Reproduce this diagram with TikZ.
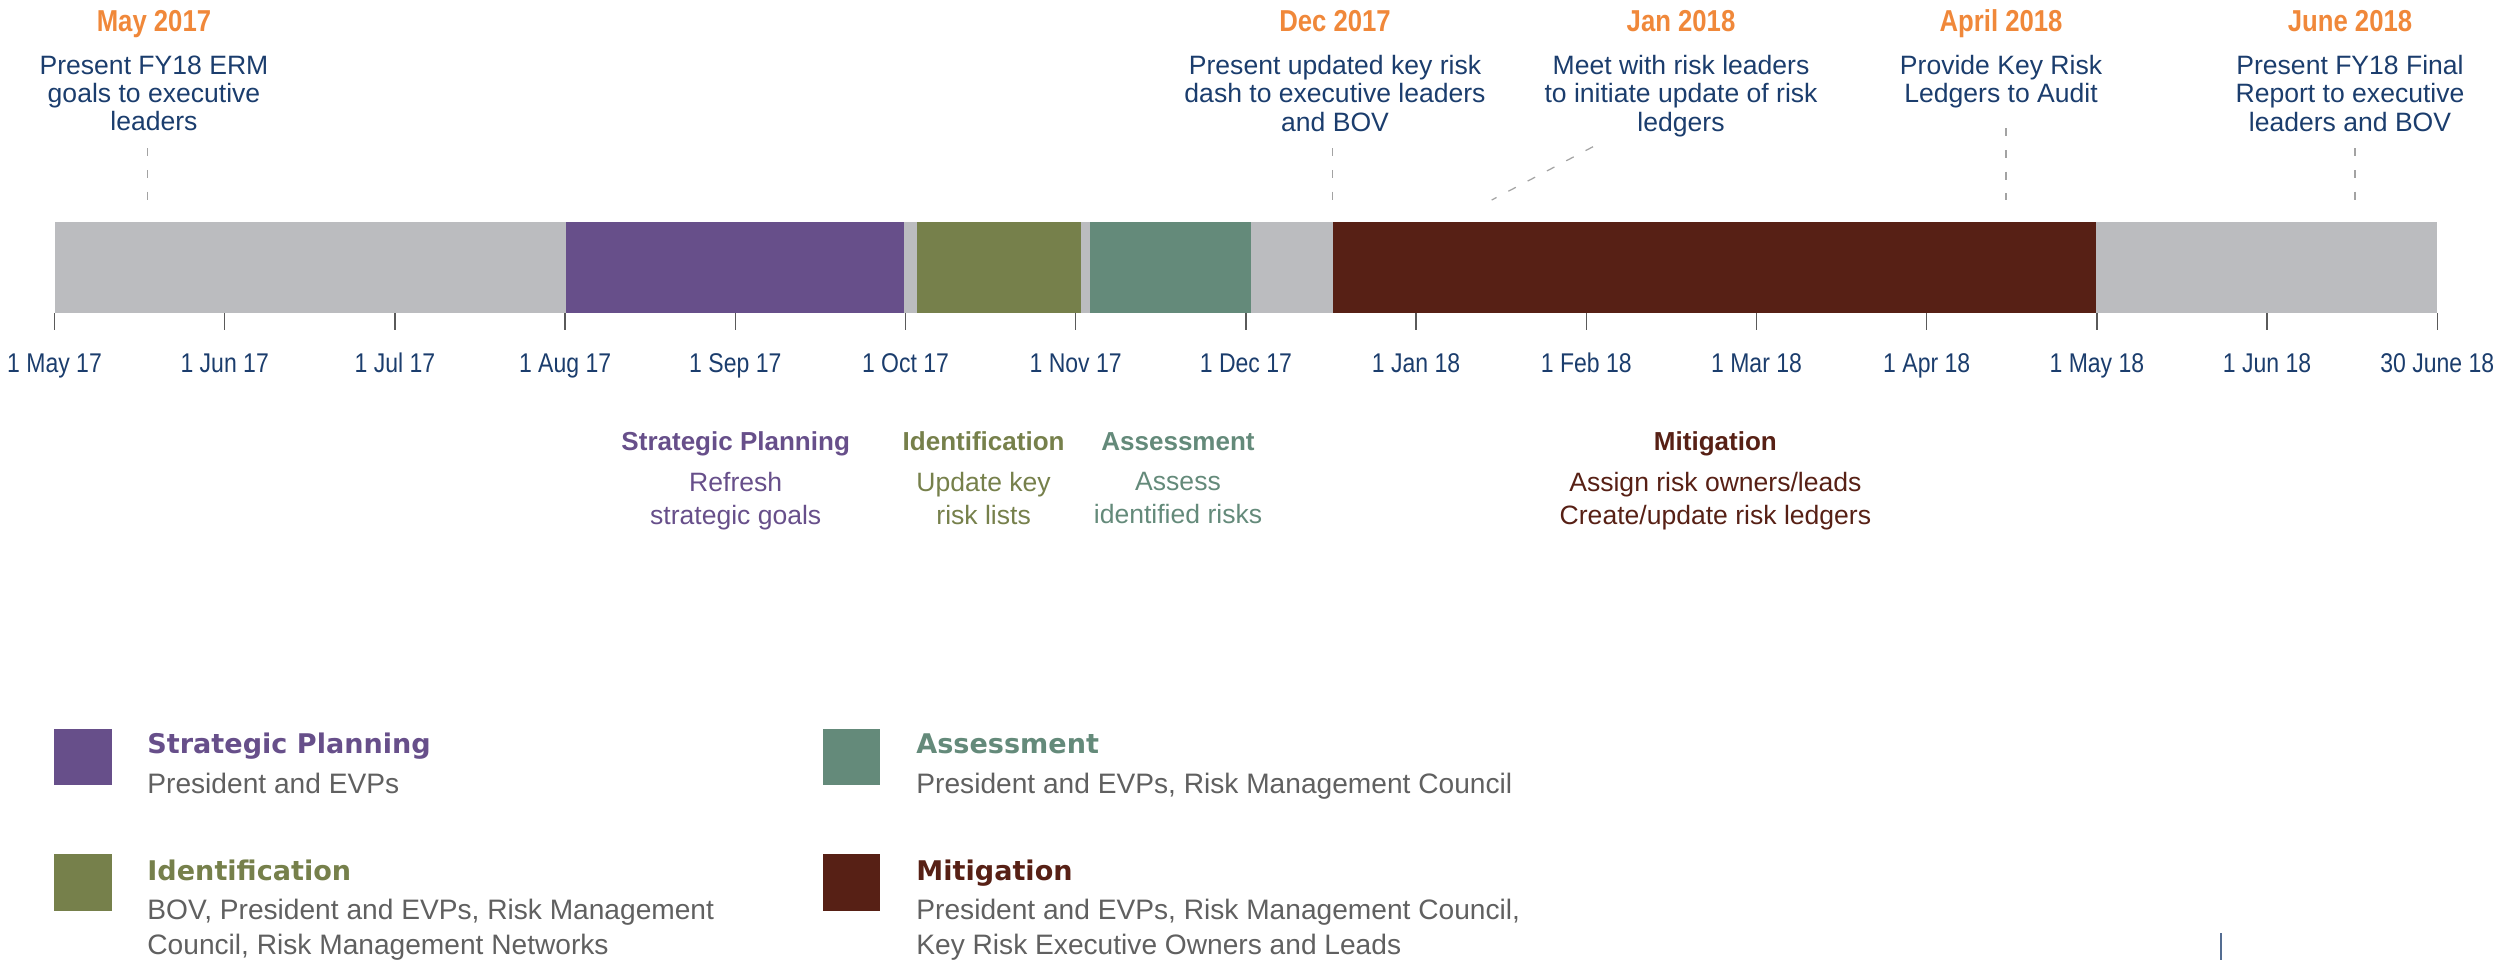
\documentclass[tikz,border=0pt]{standalone}
\usepackage{fontspec}
\setmainfont{Liberation Sans}
\newfontfamily\narrowfont[FakeStretch=0.85]{Liberation Sans}
\newfontfamily\keyfont{DejaVu Sans}
\usetikzlibrary{positioning}

\definecolor{datenavy}{HTML}{1B3D6D}
\definecolor{eventorange}{HTML}{F0883A}
\definecolor{idlegray}{HTML}{BBBCBF}
\definecolor{planpurple}{HTML}{674F8A}
\definecolor{identolive}{HTML}{76804B}
\definecolor{assessteal}{HTML}{648A7A}
\definecolor{mitigbrown}{HTML}{572015}
\definecolor{keygray}{HTML}{606060}
\definecolor{leadergray}{HTML}{A3A3A3}
\definecolor{tickgray}{HTML}{5A5A5A}

% bar extent and month spacing (units of 0.01cm, y going down)
\def\barTop{222.3}
\def\barBot{313.3}
\def\tickZero{54.5}
\def\monthStep{170.2}
\def\phase#1#2#3{\fill[#1] (#2,\barTop) rectangle (#3,\barBot);}

\tikzset{
  event date/.style={inner sep=0, text=eventorange, font=\narrowfont\bfseries\fontsize{8.6}{9}\selectfont},
  event text/.style={inner sep=0, align=center, text=datenavy, font=\fontsize{7.55}{7.97}\selectfont},
  leader/.style={draw=leadergray, line width=0.35pt, dash pattern=on 2.4pt off 3.8pt},
  tick/.style={draw=tickgray, line width=0.4pt},
  month label/.style={inner sep=0, text=datenavy, font=\narrowfont\fontsize{7.7}{8}\selectfont},
  phase title/.style={inner sep=0, font=\bfseries\fontsize{7.4}{8}\selectfont},
  phase text/.style={inner sep=0, align=center, font=\fontsize{7.55}{9.27}\selectfont},
  key box/.style={inner sep=0, minimum width=0.575cm, minimum height=0.565cm},
  key title/.style={inner sep=0, anchor=base west, font=\keyfont\bfseries\fontsize{7.7}{8}\selectfont},
  key text/.style={inner sep=0, align=left, text=keygray, font=\fontsize{8}{9.96}\selectfont},
}

\begin{document}
\begin{tikzpicture}[x=0.01cm, y=-0.01cm]
\useasboundingbox (0,0) rectangle (2519,960);

% timeline bar
\fill[idlegray] (\tickZero,\barTop) rectangle (2437.3,\barBot);
\phase{planpurple}{566}{904.3}
\phase{identolive}{916.7}{1080.5}
\phase{assessteal}{1089.5}{1251}
\phase{mitigbrown}{1333}{2095.5}

% month ticks
\foreach \lbl [count=\i from 0] in {1 May 17, 1 Jun 17, 1 Jul 17, 1 Aug 17, 1 Sep 17, 1 Oct 17, 1 Nov 17, 1 Dec 17, 1 Jan 18, 1 Feb 18, 1 Mar 18, 1 Apr 18, 1 May 18, 1 Jun 18, 30 June 18}{
  \coordinate (t\i) at (\tickZero+\i*\monthStep,\barBot);
  \draw[tick] (t\i) -- ++(0,17);
  \node[month label, anchor=base] (m\i) at (\tickZero+\i*\monthStep,372.7) {\lbl};
}

% milestones
\node[event date, anchor=base] (may) at (154,31.7) {May 2017};
\node[event text, below=0.233cm of may.base] (mayt) {Present FY18 ERM\\goals to executive\\leaders};
\node[event date, anchor=base] (dec) at (1335,31.7) {Dec 2017};
\node[event text, below=0.233cm of dec.base] (dect) {Present updated key risk\\dash to executive leaders\\and BOV};
\node[event date, anchor=base] (jan) at (1681,31.7) {Jan 2018};
\node[event text, below=0.233cm of jan.base] (jant) {Meet with risk leaders\\to initiate update of risk\\ledgers};
\node[event date, anchor=base] (apr) at (2001,31.7) {April 2018};
\node[event text, below=0.233cm of apr.base] (aprt) {Provide Key Risk\\Ledgers to Audit};
\node[event date, anchor=base] (jun) at (2350,31.7) {June 2018};
\node[event text, below=0.233cm of jun.base] (junt) {Present FY18 Final\\Report to executive\\leaders and BOV};

\foreach \n/\xa/\ya/\xb in {may/147.3/148/147.3, dec/1332.7/148/1332.7, jan/1593/146.7/1491.7, apr/2006/128/2006, jun/2355/148/2355}{
  \coordinate (\n top) at (\xa,\ya);
  \coordinate (\n foot) at (\xb,200);
  \draw[leader] (\n top) -- (\n foot);
}

% phase captions under the bar
\node[phase title, text=planpurple, anchor=base] (plan) at (735.7,450) {Strategic Planning};
\node[phase text, text=planpurple, below=0.217cm of plan.base] (plant) {Refresh\\strategic goals};
\node[phase title, text=identolive, anchor=base] (ident) at (983.6,450) {Identification};
\node[phase text, text=identolive, below=0.217cm of ident.base] (identt) {Update key\\risk lists};
\node[phase title, text=assessteal, anchor=base] (assess) at (1178,450) {Assessment};
\node[phase text, text=assessteal, below=0.217cm of assess.base] (assesst) {Assess\\identified risks};
\node[phase title, text=mitigbrown, anchor=base] (mitig) at (1715.4,450) {Mitigation};
\node[phase text, text=mitigbrown, below=0.217cm of mitig.base] (mitigt) {Assign risk owners/leads\\Create/update risk ledgers};

% key
\node[key box, fill=planpurple] (kplan) at (83,757) {};
\node[key title, text=planpurple] (kplann) at (146.7,753) {Strategic Planning};
\node[key text, below=0.195cm of kplann.base west, anchor=north west] (kplant) {President and EVPs};
\node[key box, fill=identolive] (kident) at (83,882.5) {};
\node[key title, text=identolive] (kidentn) at (146.7,880) {Identification};
\node[key text, below=0.18cm of kidentn.base west, anchor=north west] (kidentt) {BOV, President and EVPs, Risk Management\\Council, Risk Management Networks};
\node[key box, fill=assessteal] (kassess) at (851.5,757) {};
\node[key title, text=assessteal] (kassessn) at (915.7,753) {Assessment};
\node[key text, below=0.195cm of kassessn.base west, anchor=north west] (kassesst) {President and EVPs, Risk Management Council};
\node[key box, fill=mitigbrown] (kmitig) at (851.5,882.5) {};
\node[key title, text=mitigbrown] (kmitign) at (915.7,880) {Mitigation};
\node[key text, below=0.18cm of kmitign.base west, anchor=north west] (kmitigt) {President and EVPs, Risk Management Council,\\Key Risk Executive Owners and Leads};

\draw[datenavy!75, line width=0.6pt] (2221,933) -- (2221,960);
\end{tikzpicture}
\end{document}
